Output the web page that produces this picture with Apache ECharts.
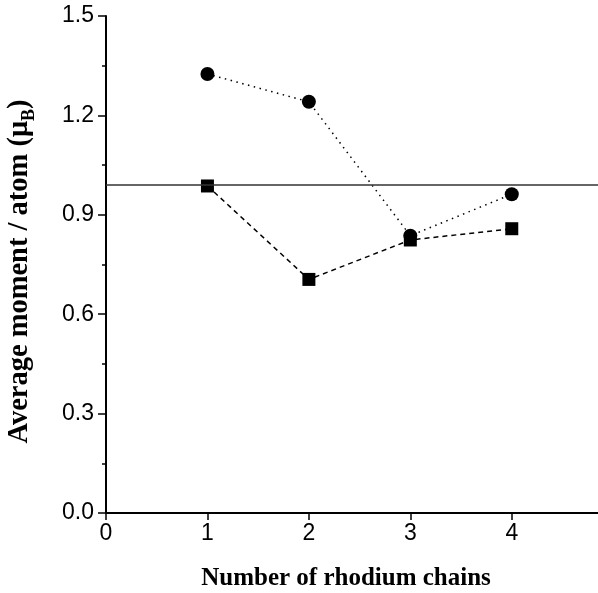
<!DOCTYPE html>
<html>
<head>
<meta charset="utf-8">
<script src="https://cdn.jsdelivr.net/npm/echarts@6/dist/echarts.min.js"></script>
<style>
  html, body { margin: 0; padding: 0; background: #fff; }
  #chart { width: 598px; height: 593px; }
</style>
</head>
<body>
<div id="chart"></div>
<script>
// number of rhodium chains
var chains = [1, 2, 3, 4];
// average moment per atom (muB)
var circleMoments = [1.325, 1.241, 0.837, 0.962];
var squareMoments = [0.987, 0.705, 0.824, 0.858];
// horizontal reference level
var refLevel = 0.988;

var xTicks = [0, 1, 2, 3, 4];
var yTicks = [0.0, 0.3, 0.6, 0.9, 1.2, 1.5];

function pairs(xs, ys) {
    var out = [];
    for (var i = 0; i < xs.length; i++) {
        out.push([xs[i], ys[i]]);
    }
    return out;
}

var tickFont = 'Liberation Sans';
var titleFont = 'Liberation Serif';

var myChart = echarts.init(document.getElementById('chart'));
myChart.setOption({
    animation: false,
    grid: {
        left: 106,
        right: 0,
        top: 16,
        bottom: 80,
        containLabel: false,
        outerBoundsMode: 'none'
    },
    xAxis: [{
        type: 'value',
        min: 0,
        max: 4.85,
        interval: 1,
        splitLine: { show: false },
        axisLine: { show: true, onZero: false, lineStyle: { color: '#000', width: 2 } },
        axisTick: { show: true, length: 7, customValues: xTicks, lineStyle: { color: '#000', width: 1.5 } },
        axisLabel: {
            color: '#000',
            fontFamily: tickFont,
            fontSize: 23,
            margin: 9,
            customValues: xTicks
        },
        name: 'Number of rhodium chains',
        nameLocation: 'middle',
        nameGap: 53,
        nameTextStyle: {
            color: '#000',
            fontFamily: titleFont,
            fontWeight: 'bold',
            fontSize: 25,
            padding: [0, 12, 0, 0]
        }
    }, {
        type: 'value',
        position: 'top',
        min: 0,
        max: 4.85,
        splitLine: { show: false },
        axisLine: { show: true, lineStyle: { color: '#000', width: 2 } },
        axisTick: { show: false },
        axisLabel: { show: false }
    }],
    yAxis: {
        type: 'value',
        min: 0,
        max: 1.5,
        interval: 0.3,
        splitLine: { show: false },
        axisLine: { show: true, onZero: false, lineStyle: { color: '#000', width: 2 } },
        axisTick: { show: true, length: 8, lineStyle: { color: '#000', width: 1.5 } },
        minorTick: { show: true, splitNumber: 2, length: 4, lineStyle: { color: '#000', width: 1.5 } },
        axisLabel: {
            color: '#000',
            fontFamily: tickFont,
            fontSize: 23,
            margin: 12,
            customValues: yTicks,
            formatter: function (v) {
                return v.toFixed(1);
            }
        },
        name: '{a|Average moment / atom (\u03bc}{b|B}{a|)}',
        nameLocation: 'middle',
        nameGap: 68,
        nameRotate: 90,
        nameTextStyle: {
            padding: [0, 14, 0, 0],
            rich: {
                a: {
                    color: '#000',
                    fontFamily: titleFont,
                    fontWeight: 'bold',
                    fontSize: 28.5,
                    lineHeight: 36,
                    verticalAlign: 'middle'
                },
                b: {
                    color: '#000',
                    fontFamily: titleFont,
                    fontWeight: 'bold',
                    fontSize: 18,
                    lineHeight: 36,
                    verticalAlign: 'bottom'
                }
            }
        }
    },
    series: [{
        name: 'circles',
        type: 'line',
        data: pairs(chains, circleMoments),
        symbol: 'circle',
        symbolSize: 14,
        itemStyle: { color: '#000' },
        lineStyle: { color: '#000', width: 1.5, type: [1.5, 4.5] },
        z: 3
    }, {
        name: 'squares',
        type: 'line',
        data: pairs(chains, squareMoments),
        symbol: 'rect',
        symbolSize: 13,
        itemStyle: { color: '#000' },
        lineStyle: { color: '#000', width: 1.5, type: [5, 4] },
        z: 4,
        markLine: {
            silent: true,
            symbol: 'none',
            label: { show: false },
            lineStyle: { color: '#333', width: 1.5, type: 'solid' },
            data: [{ yAxis: refLevel }]
        }
    }]
});
</script>
</body>
</html>
